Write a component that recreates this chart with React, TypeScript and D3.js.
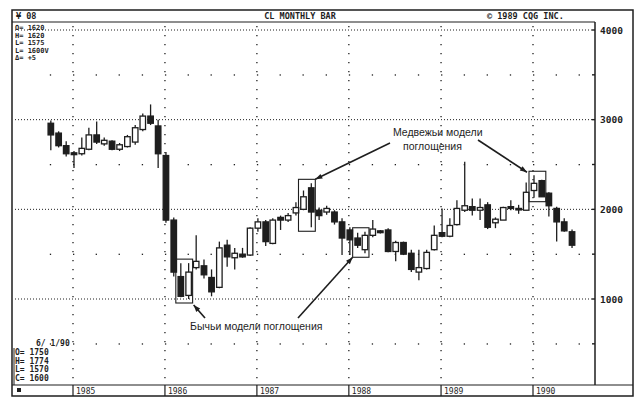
import React from "react";
import * as d3 from "d3";

// monthly bars, Oct 1984 .. Jun 1990 (crude oil, cents)
const startMonth = new Date(1984, 9, 1);
const opens = [2960, 2850, 2710, 2630, 2620, 2670, 2830, 2730, 2760, 2670, 2700, 2750, 2890, 3040, 2930, 2600, 1880, 1250, 1040, 1350, 1370, 1240, 1130, 1600, 1460, 1500, 1490, 1790, 1860, 1620, 1910, 1880, 1960, 2000, 2240, 1990, 1970, 1970, 1860, 1770, 1680, 1550, 1710, 1760, 1770, 1530, 1630, 1510, 1300, 1340, 1550, 1740, 1700, 1830, 1990, 2030, 1990, 2050, 1850, 1880, 2030, 2010, 1990, 2210, 2320, 2180, 2010, 1860, 1750];
const highs = [2990, 2870, 2760, 2650, 2800, 2910, 2980, 2800, 2770, 2740, 2830, 2940, 3070, 3170, 3000, 2640, 1910, 1400, 1400, 1710, 1440, 1330, 1640, 1660, 1570, 1570, 1800, 1900, 1880, 1900, 1930, 1960, 2080, 2210, 2290, 2020, 2040, 1990, 1900, 1800, 1740, 1750, 1880, 1770, 1790, 1650, 1640, 1550, 1550, 1550, 1820, 2010, 1900, 2100, 2530, 2120, 2120, 2080, 1910, 2030, 2100, 2050, 2300, 2380, 2330, 2190, 2030, 1900, 1774];
const lows = [2660, 2690, 2590, 2460, 2600, 2660, 2730, 2710, 2660, 2650, 2690, 2720, 2870, 2940, 2460, 1850, 1250, 1020, 1000, 1330, 1230, 1030, 1120, 1360, 1330, 1460, 1480, 1750, 1590, 1610, 1770, 1860, 1930, 1990, 1800, 1880, 1940, 1830, 1490, 1490, 1570, 1510, 1690, 1730, 1520, 1420, 1490, 1300, 1210, 1330, 1540, 1690, 1690, 1820, 1970, 1930, 1880, 1780, 1790, 1880, 1990, 1950, 1990, 2130, 2140, 1920, 1640, 1750, 1570];
const closes = [2830, 2710, 2620, 2610, 2680, 2830, 2750, 2770, 2670, 2720, 2810, 2910, 3040, 2960, 2620, 1880, 1300, 1030, 1300, 1420, 1270, 1080, 1570, 1470, 1510, 1470, 1790, 1860, 1640, 1880, 1880, 1930, 2020, 2140, 1970, 1930, 2010, 1860, 1680, 1660, 1600, 1710, 1780, 1740, 1530, 1630, 1500, 1330, 1350, 1520, 1710, 1700, 1820, 2010, 2040, 1990, 2020, 1800, 1890, 2020, 2010, 2000, 2190, 2290, 2140, 2040, 1860, 1760, 1600];

const years = [1985, 1986, 1987, 1988, 1989, 1990];
const priceTicks = [1000, 2000, 3000, 4000];
const halfTicks = [500, 1500, 2500, 3500];
const topLegend = ["O= 1620", "H= 1620", "L= 1575", "L= 1600V", "\u0394=   +5"];
const bottomLegend = ["O= 1750", "H= 1774", "L= 1570", "C= 1600"];
// engulfing patterns: index of the first bar of each pair
const bullPairs = [17, 40];
const bearPairs = [33, 63];

const W = 640;
const H = 409;
const plot = { left: 13, right: 595, top: 22, bottom: 385 };
const outer = { left: 12, right: 633, top: 10, bottom: 396 };
const ink = "#1e1e1e";
const mono = "'DejaVu Sans Mono', monospace";

const x = d3
  .scaleTime()
  .domain([new Date(1985, 0, 1), new Date(1990, 0, 1)])
  .range([73, 533]);
const y = d3.scaleLinear().domain([1000, 4000]).range([299, 30]);

const bars = opens.map((o, i) => ({
  date: d3.timeMonth.offset(startMonth, i),
  o,
  h: highs[i],
  l: lows[i],
  c: closes[i],
}));
const bx = (i: number) => x(bars[i].date) + 1;

const boxOf = (i: number) => {
  const hi = Math.max(bars[i].h, bars[i + 1].h);
  const lo = Math.min(bars[i].l, bars[i + 1].l);
  return {
    x0: bx(i) - 5,
    x1: bx(i + 1) + 4,
    y0: y(hi) - 4,
    y1: y(lo) + 4,
  };
};

const Arrow = ({ x1, y1, x2, y2 }: any) => {
  const a = Math.atan2(y2 - y1, x2 - x1);
  const len = 7;
  const w = 2.6;
  const p1 = [x2 - len * Math.cos(a) + w * Math.sin(a), y2 - len * Math.sin(a) - w * Math.cos(a)];
  const p2 = [x2 - len * Math.cos(a) - w * Math.sin(a), y2 - len * Math.sin(a) + w * Math.cos(a)];
  return (
    <g>
      <line x1={x1} y1={y1} x2={x2} y2={y2} stroke={ink} strokeWidth={1.6} />
      <polygon points={`${x2},${y2} ${p1.join(",")} ${p2.join(",")}`} fill={ink} />
    </g>
  );
};

export default function App() {
  const yearX = years.map((yr) => x(new Date(yr, 0, 1)));
  const quarterX = d3
    .timeMonth.every(3)!
    .range(new Date(1984, 9, 1), new Date(1990, 7, 1))
    .map((d) => x(d))
    .filter((v) => v > plot.left + 4 && v < plot.right - 4);

  const bull = bullPairs.map(boxOf);
  const bear = bearPairs.map(boxOf);

  return (
    <svg
      width={W}
      height={H}
      style={{ position: "absolute", left: 0, top: 0, background: "#fff" }}
    >
      <rect width={W} height={H} fill="#fff" />
      {/* frames */}
      <rect
        x={outer.left}
        y={outer.top}
        width={outer.right - outer.left}
        height={outer.bottom - outer.top}
        fill="none"
        stroke={ink}
        strokeWidth={1.5}
      />
      <line x1={outer.left} x2={plot.right} y1={plot.top} y2={plot.top} stroke={ink} strokeWidth={1.2} />
      <line x1={plot.right} x2={plot.right} y1={plot.top} y2={plot.bottom} stroke={ink} strokeWidth={1.5} />
      <line x1={outer.left} x2={outer.right} y1={plot.bottom} y2={plot.bottom} stroke={ink} strokeWidth={1.2} />

      {/* header */}
      <g fontFamily={mono} fontSize={8.5} fill={ink} fontWeight="bold">
        <text x={16} y={19}>¥ 08</text>
        <text x={300} y={19} textAnchor="middle">CL MONTHLY BAR</text>
        <text x={487} y={19}>© 1989 CQG INC.</text>
      </g>

      {/* grid */}
      {priceTicks.map((t) => (
        <line
          key={t}
          x1={plot.left + 2}
          x2={plot.right - 2}
          y1={y(t)}
          y2={y(t)}
          stroke={ink}
          strokeDasharray="1 2"
          strokeWidth={1}
        />
      ))}
      {yearX.map((v) => (
        <line
          key={v}
          x1={v}
          x2={v}
          y1={plot.top + 4}
          y2={plot.bottom - 2}
          stroke={ink}
          strokeDasharray="1.2 7.8"
          strokeWidth={1.3}
        />
      ))}
      {halfTicks.map((t) =>
        quarterX.map((q) => (
          <rect key={`${t}-${q}`} x={q} y={y(t) - 0.5} width={1.3} height={1.3} fill={ink} />
        ))
      )}
      {/* right axis */}
      {d3.range(500, 4001, 500).map((t) => (
        <line key={t} x1={plot.right - 3} x2={plot.right} y1={y(t)} y2={y(t)} stroke={ink} strokeWidth={1.4} />
      ))}
      {priceTicks.map((t) => (
        <text key={t} x={600} y={y(t) + 3.5} fontFamily={mono} fontSize={9.5} fontWeight="bold" fill={ink}>
          {t}
        </text>
      ))}

      {/* candles */}
      {bars.map((b, i) => {
        const cx = bx(i);
        const up = b.c >= b.o;
        const top = y(Math.max(b.o, b.c));
        const bot = y(Math.min(b.o, b.c));
        return (
          <g key={i}>
            <line x1={cx} x2={cx} y1={y(b.h)} y2={y(b.l)} stroke={ink} strokeWidth={1.3} />
            <rect
              x={cx - 2.75}
              y={top}
              width={5.5}
              height={Math.max(bot - top, 1.5)}
              fill={up ? "#fff" : ink}
              stroke={ink}
              strokeWidth={1.3}
            />
          </g>
        );
      })}

      {/* pattern boxes */}
      {[...bull, ...bear].map((r, i) => (
        <rect key={i} x={r.x0} y={r.y0} width={r.x1 - r.x0} height={r.y1 - r.y0} fill="none" stroke={ink} strokeWidth={1.1} />
      ))}

      {/* annotations */}
      <g fontFamily="'Liberation Sans', Arial, sans-serif" fontSize={10.5} fill={ink}>
        <text x={393} y={136}>Медвежьи модели</text>
        <text x={403} y={150}>поглощения</text>
        <text x={190} y={330}>Бычьи модели поглощения</text>
      </g>
      <Arrow x1={390} y1={143} x2={bear[0].x1} y2={bear[0].y0} />
      <Arrow x1={478} y1={140} x2={bear[1].x0 - 2} y2={bear[1].y0 + 1} />
      <Arrow x1={205} y1={318} x2={bull[0].x1 + 1} y2={bull[0].y1 + 2} />
      <Arrow x1={298} y1={318} x2={bull[1].x0} y2={bull[1].y1} />

      {/* legends */}
      <g fontFamily={mono} fontSize={7} fontWeight="bold" fill={ink}>
        {topLegend.map((s, i) => (
          <text key={s} x={15} y={30 + i * 7.6}>{s}</text>
        ))}
      </g>
      <g fontFamily={mono} fontSize={8} fontWeight="bold" fill={ink}>
        <text x={36} y={346}>6/ 1/90</text>
        {bottomLegend.map((s, i) => (
          <text key={s} x={15} y={355 + i * 8.5}>{s}</text>
        ))}
      </g>
      <line x1={14} x2={14} y1={348} y2={plot.bottom} stroke={ink} strokeWidth={1} />

      {/* bottom year row */}
      <rect x={17} y={388} width={4} height={4} fill={ink} />
      {yearX.map((v, i) => (
        <g key={years[i]}>
          <line x1={v} x2={v} y1={plot.bottom} y2={outer.bottom} stroke={ink} strokeWidth={1.2} />
          <text x={v + 3} y={394} fontFamily={mono} fontSize={8} fill={ink}>
            {years[i]}
          </text>
        </g>
      ))}
    </svg>
  );
}
